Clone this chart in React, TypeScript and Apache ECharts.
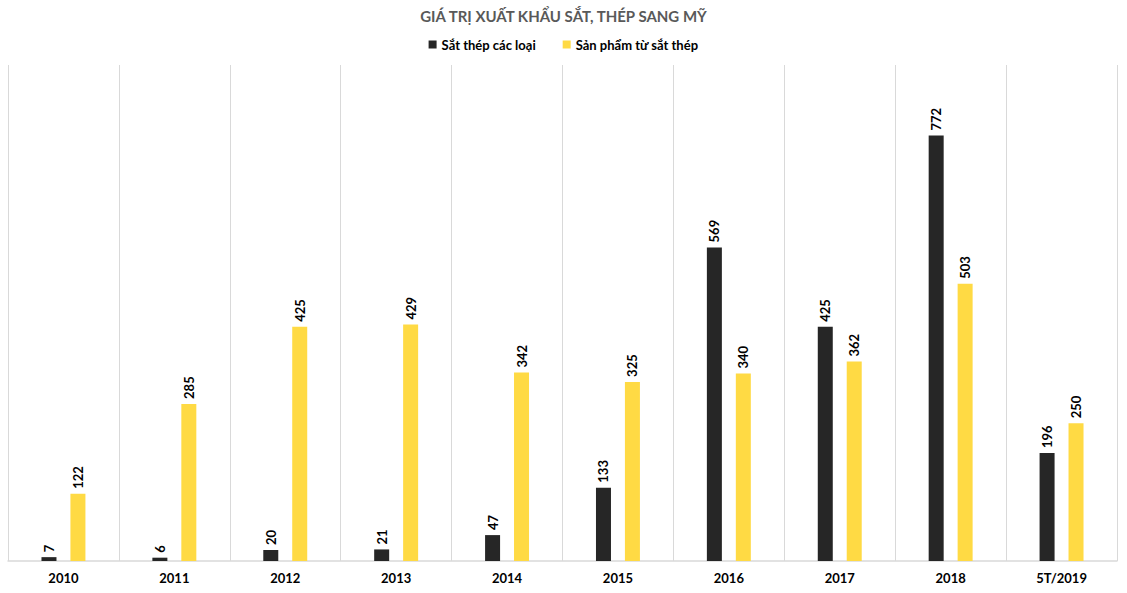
import React, { useEffect, useRef } from "react";
import * as echarts from "echarts";

const categories = ["2010", "2011", "2012", "2013", "2014", "2015", "2016", "2017", "2018", "5T/2019"];
const steelValues = [7, 6, 20, 21, 47, 133, 569, 425, 772, 196];
const productValues = [122, 285, 425, 429, 342, 325, 340, 362, 503, 250];
const seriesNames = ["Sắt thép các loại", "Sản phẩm từ sắt thép"];
const titleText = "GIÁ TRỊ XUẤT KHẨU SẮT, THÉP SANG MỸ";

const FONT = "Lato, 'Open Sans', sans-serif";

export default function App() {
  const ref = useRef<HTMLDivElement>(null);
  useEffect(() => {
    const chart = echarts.init(ref.current!, undefined, { renderer: "svg" });
    const label = {
      show: true,
      position: "top",
      rotate: 90,
      align: "left",
      verticalAlign: "middle",
      distance: 5,
      color: "#000",
      fontWeight: "bold",
      fontSize: 13,
      fontFamily: FONT,
    };
    chart.setOption({
      animation: false,
      backgroundColor: "#fff",
      title: {
        text: titleText,
        left: "center",
        top: 3,
        textStyle: { color: "#595959", fontSize: 15, fontWeight: "bold", fontFamily: FONT },
      },
      legend: {
        top: 33,
        left: "center",
        itemWidth: 8,
        itemHeight: 8,
        itemGap: 27,
        icon: "rect",
        textStyle: { color: "#000", fontSize: 13, fontWeight: "bold", fontFamily: FONT },
        data: seriesNames,
      },
      grid: { left: 8, right: 10, top: 65, bottom: 32, containLabel: false },
      xAxis: {
        type: "category",
        data: categories,
        axisLine: { lineStyle: { color: "#d9d9d9", width: 1.5 } },
        axisTick: { show: false },
        splitLine: { show: true, interval: 0, lineStyle: { color: "#d9d9d9", width: 1 } },
        axisLabel: { color: "#000", fontWeight: "bold", fontSize: 13, fontFamily: FONT, margin: 10, interval: 0 },
      },
      yAxis: {
        type: "value",
        min: 0,
        max: 900,
        show: false,
        splitLine: { show: false },
      },
      series: [
        {
          name: seriesNames[0],
          type: "bar",
          data: steelValues,
          barWidth: 15,
          barGap: "93%",
          itemStyle: { color: "#262626" },
          label,
        },
        {
          name: seriesNames[1],
          type: "bar",
          data: productValues,
          barWidth: 15,
          itemStyle: { color: "#FFDA44" },
          label,
        },
      ],
    });
    return () => chart.dispose();
  }, []);
  return (
    <div
      ref={ref}
      style={{ position: "fixed", left: 0, top: 0, width: 1127, height: 593 }}
    />
  );
}
